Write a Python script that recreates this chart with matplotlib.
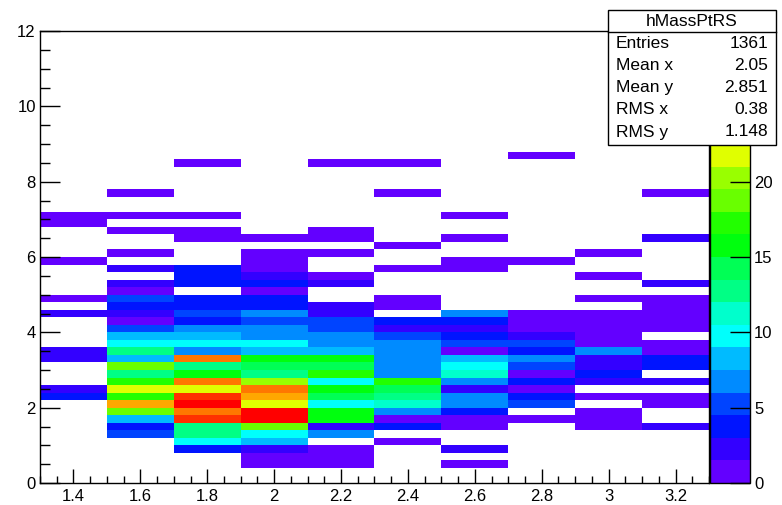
import colorsys
import numpy as np
import matplotlib
matplotlib.use('Agg')
import matplotlib.pyplot as plt
from matplotlib.colors import ListedColormap, BoundaryNorm
from matplotlib.patches import Rectangle
from matplotlib.ticker import MultipleLocator, FuncFormatter

plt.rcParams['font.family'] = ['Liberation Sans', 'DejaVu Sans']

W, H = 782, 505  # output size in pixels

# binning of hMassPtRS
x_edges = np.linspace(1.3, 3.3, 11)
y_edges = np.linspace(0.0, 12.0, 61)
y_first = 0.4  # low edge of the first filled row

# bin contents, one row per 0.2 in y, from y=0.4 upwards (10 x bins each)
counts_rows = [
    [0, 0, 0, 1, 1, 0, 1, 0, 0, 0],      # 0.4
    [0, 0, 0, 1, 1, 0, 0, 0, 0, 0],      # 0.6
    [0, 0, 3, 2, 1, 0, 2, 0, 0, 0],      # 0.8
    [0, 0, 9, 8, 0, 1, 0, 0, 0, 0],      # 1.0
    [0, 5, 12, 9, 6, 0, 0, 0, 0, 0],     # 1.2
    [0, 3, 12, 18, 2, 3, 1, 0, 1, 2],    # 1.4
    [0, 8, 27, 29, 15, 1, 1, 1, 1, 0],   # 1.6
    [0, 18, 26, 29, 15, 6, 3, 0, 1, 0],  # 1.8
    [0, 24, 29, 21, 9, 11, 6, 5, 0, 1],  # 2.0
    [3, 17, 27, 24, 14, 12, 6, 3, 1, 1], # 2.2
    [2, 21, 21, 26, 15, 14, 2, 1, 0, 0], # 2.4
    [0, 17, 26, 20, 9, 17, 6, 3, 2, 2],  # 2.6
    [0, 12, 15, 12, 17, 6, 11, 1, 3, 0], # 2.8
    [0, 18, 12, 14, 14, 6, 9, 5, 2, 3],  # 3.0
    [2, 8, 26, 15, 15, 6, 8, 6, 2, 3],   # 3.2
    [2, 12, 6, 8, 8, 6, 1, 3, 6, 1],     # 3.4
    [0, 9, 9, 9, 6, 6, 5, 5, 1, 1],      # 3.6
    [0, 8, 8, 6, 6, 5, 3, 2, 1, 0],      # 3.8
    [0, 5, 6, 6, 5, 2, 2, 1, 1, 1],      # 4.0
    [0, 1, 3, 5, 5, 3, 3, 1, 1, 1],      # 4.2
    [2, 2, 5, 6, 2, 0, 6, 1, 1, 1],      # 4.4
    [0, 3, 3, 3, 2, 1, 0, 0, 0, 1],      # 4.6
    [1, 5, 3, 3, 0, 1, 0, 0, 1, 1],      # 4.8
    [0, 1, 0, 1, 0, 0, 0, 0, 0, 0],      # 5.0
    [0, 2, 3, 3, 2, 0, 0, 0, 0, 2],      # 5.2
    [0, 0, 3, 2, 1, 0, 0, 0, 1, 0],      # 5.4
    [0, 2, 3, 1, 0, 1, 1, 0, 0, 0],      # 5.6
    [1, 0, 0, 1, 0, 0, 1, 1, 0, 0],      # 5.8
    [0, 1, 0, 1, 1, 0, 0, 0, 1, 0],      # 6.0
    [0, 0, 0, 0, 0, 1, 0, 0, 0, 0],      # 6.2
    [0, 0, 1, 1, 1, 0, 1, 0, 0, 2],      # 6.4
    [0, 1, 1, 0, 1, 0, 0, 0, 0, 0],      # 6.6
    [1, 0, 0, 0, 0, 0, 0, 0, 0, 0],      # 6.8
    [1, 1, 1, 0, 0, 0, 1, 0, 0, 0],      # 7.0
    [0, 0, 0, 0, 0, 0, 0, 0, 0, 0],      # 7.2
    [0, 0, 0, 0, 0, 0, 0, 0, 0, 0],      # 7.4
    [0, 1, 0, 0, 0, 1, 0, 0, 0, 1],      # 7.6
    [0, 0, 0, 0, 0, 0, 0, 0, 0, 0],      # 7.8
    [0, 0, 0, 0, 0, 0, 0, 0, 0, 0],      # 8.0
    [0, 0, 0, 0, 0, 0, 0, 0, 0, 0],      # 8.2
    [0, 0, 1, 0, 1, 1, 0, 0, 0, 0],      # 8.4
    [0, 0, 0, 0, 0, 0, 0, 1, 0, 0],      # 8.6
]

z_max = 30
z_ticks = [0, 5, 10, 15, 20]  # 25 sits under the stats box

hist_name = 'hMassPtRS'
stat_names = ['Entries', 'Mean x', 'Mean y', 'RMS x', 'RMS y']
stat_values = ['1361', '2.05', '2.851', '0.38', '1.148']

counts = np.zeros((len(y_edges) - 1, len(x_edges) - 1))
i0 = int(round(y_first / 0.2))
counts[i0:i0 + len(counts_rows)] = counts_rows
counts = np.ma.masked_equal(counts, 0)

# ROOT "pretty" palette (50 hues) sampled into 20 contour levels
n_lev = 20
pal = []
for i in range(n_lev):
    j = int((i + 0.99) * 50 / n_lev)
    hue = 280 - (j + 1) * 280 / 50
    pal.append(colorsys.hls_to_rgb(hue / 360, 0.5, 1.0))
cmap = ListedColormap(pal)
levels = np.linspace(0, z_max, n_lev + 1)
norm = BoundaryNorm(levels, n_lev)


def fx(px):
    return px / W


def fy(py):
    return 1 - py / H


fig = plt.figure(figsize=(W / 100, H / 100), dpi=100)
ax = fig.add_axes([fx(40), fy(483), fx(709) - fx(40), fy(31) - fy(483)])
mesh = ax.pcolormesh(x_edges, y_edges, counts, cmap=cmap, norm=norm)

ax.set_xlim(1.3, 3.3)
ax.set_ylim(0, 12)
ax.xaxis.set_major_locator(MultipleLocator(0.2))
ax.xaxis.set_minor_locator(MultipleLocator(0.05))
ax.yaxis.set_major_locator(MultipleLocator(2))
ax.yaxis.set_minor_locator(MultipleLocator(0.5))
fmt = FuncFormatter(lambda v, p: '%g' % round(v, 3))
ax.xaxis.set_major_formatter(fmt)
ax.yaxis.set_major_formatter(fmt)
ax.tick_params(which='both', direction='in', top=False, right=False,
               width=1, labelsize=12)
ax.xaxis.set_tick_params(which='major', length=9.8, pad=4)
ax.xaxis.set_tick_params(which='minor', length=4.9)
ax.yaxis.set_tick_params(which='major', length=14.4, pad=3)
ax.yaxis.set_tick_params(which='minor', length=7.2)
for s in ax.spines.values():
    s.set_linewidth(1)

# palette axis
cax = fig.add_axes([fx(710), fy(483), fx(750) - fx(710), fy(31) - fy(483)])
cb = fig.colorbar(mesh, cax=cax, ticks=z_ticks)
cb.outline.set_linewidth(1)
cax.tick_params(direction='in', length=14.4, width=1, labelsize=12, pad=3)
cax.minorticks_off()

# statistics box
fig.add_artist(Rectangle((fx(608), fy(145)), fx(776) - fx(608), fy(10) - fy(145),
                         transform=fig.transFigure, facecolor='white',
                         edgecolor='black', linewidth=1, zorder=5))
fig.add_artist(plt.Line2D([fx(608), fx(776)], [fy(32), fy(32)],
                          transform=fig.transFigure, color='black',
                          linewidth=1, zorder=6))
fig.text(fx(692), fy(21), hist_name, ha='center', va='center',
         fontsize=12.5, zorder=7)
row_y = [44, 66, 88, 110, 132]
for name, val, yy in zip(stat_names, stat_values, row_y):
    fig.text(fx(616), fy(yy), name, ha='left', va='center', fontsize=12.5, zorder=7)
    fig.text(fx(768), fy(yy), val, ha='right', va='center', fontsize=12.5, zorder=7)

fig.savefig('out.png', dpi=100)
